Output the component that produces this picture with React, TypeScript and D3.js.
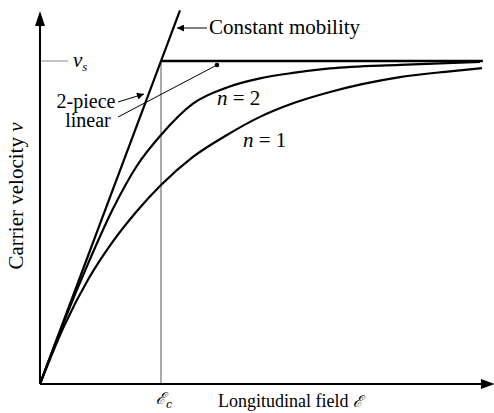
import React from "react";
import * as d3 from "d3";

// Field in units of Ec, velocity in units of vs
const n2Field = [0, 0.2, 0.4, 0.6, 0.8, 1.0, 1.264, 1.545, 1.818, 2.091, 2.397, 2.975, 3.636];
const n2Vel = [0, 0.195, 0.375, 0.54, 0.675, 0.771, 0.868, 0.918, 0.946, 0.963, 0.977, 0.988, 0.997];
const n1Field = [0, 0.2, 0.4, 0.6, 0.8, 1.0, 1.264, 1.545, 1.818, 2.091, 2.397, 2.975, 3.388, 3.653];
const n1Vel = [0, 0.18, 0.325, 0.44, 0.535, 0.616, 0.703, 0.771, 0.827, 0.869, 0.904, 0.95, 0.968, 0.978];
const cmField = [0, 1.157];
const cmVel = [0, 1.157];
const pieceField = [1, 3.66];
const pieceVel = [1, 1];
const fieldMax = 3.76;
const velMax = 1.155;

const W = 494;
const H = 413;

export default function App() {
  const x = d3.scaleLinear().domain([0, 1]).range([40, 161]);
  const y = d3.scaleLinear().domain([0, 1]).range([384, 61]);
  const toPts = (fx: number[], vy: number[]) => fx.map((f, i) => [f, vy[i]] as [number, number]);
  const smooth = d3
    .line<[number, number]>()
    .x((d) => x(d[0]))
    .y((d) => y(d[1]))
    .curve(d3.curveMonotoneX);
  const straight = d3
    .line<[number, number]>()
    .x((d) => x(d[0]))
    .y((d) => y(d[1]));

  const serif = "'Liberation Serif', 'Times New Roman', 'DejaVu Serif', serif";
  const x0 = x(0);
  const y0 = y(0);
  const xEnd = x(fieldMax);
  const yTop = y(velMax);

  return (
    <svg
      width={W}
      height={H}
      viewBox={`0 0 ${W} ${H}`}
      style={{ position: "absolute", left: 0, top: 0, background: "#fff" }}
      fontFamily={serif}
    >
      <defs>
        <marker id="ah" viewBox="0 0 10 10" refX="10" refY="5" markerWidth="9" markerHeight="7" markerUnits="userSpaceOnUse" orient="auto">
          <path d="M0,0 L10,5 L0,10 z" fill="#000" />
        </marker>
      </defs>

      {/* Ec vertical guide */}
      <line x1={x(1)} x2={x(1)} y1={y(1)} y2={y0} stroke="#555" strokeWidth={1} />
      {/* vs tick */}
      <line x1={x0} x2={x0 + 28} y1={y(1)} y2={y(1)} stroke="#888" strokeWidth={1} />

      {/* axes */}
      <line x1={x0} x2={x0} y1={y0} y2={yTop + 14} stroke="#000" strokeWidth={2} />
      <path d={`M${x0},${yTop} L${x0 - 5},${yTop + 15} L${x0 + 5},${yTop + 15} z`} fill="#000" />
      <line x1={x0} x2={xEnd - 13} y1={y0} y2={y0} stroke="#000" strokeWidth={2} />
      <path d={`M${xEnd},${y0} L${xEnd - 14},${y0 - 5} L${xEnd - 14},${y0 + 5} z`} fill="#000" />

      {/* curves */}
      <path d={straight(toPts(cmField, cmVel)) || ""} fill="none" stroke="#000" strokeWidth={2.2} />
      <path d={straight(toPts(pieceField, pieceVel)) || ""} fill="none" stroke="#000" strokeWidth={2.6} />
      <path d={smooth(toPts(n2Field, n2Vel)) || ""} fill="none" stroke="#000" strokeWidth={2.2} />
      <path d={smooth(toPts(n1Field, n1Vel)) || ""} fill="none" stroke="#000" strokeWidth={2.2} />

      {/* annotations */}
      <line x1={207} y1={28} x2={177} y2={28} stroke="#000" strokeWidth={1} markerEnd="url(#ah)" />
      <text x={209} y={34} fontSize={21}>Constant mobility</text>

      <text x={73} y={67} fontSize={21} fontStyle="italic">
        v<tspan fontSize={13} dy={4}>s</tspan>
      </text>

      <text x={86} y={108} fontSize={20} textAnchor="middle">2-piece</text>
      <text x={88} y={127} fontSize={20} textAnchor="middle">linear</text>
      <line x1={118} y1={102} x2={144} y2={94} stroke="#000" strokeWidth={1} markerEnd="url(#ah)" />
      <line x1={118} y1={117} x2={217} y2={65} stroke="#000" strokeWidth={1} />
      <circle cx={217} cy={65} r={2.3} fill="#000" />

      <text x={217} y={105} fontSize={21}>
        <tspan fontStyle="italic">n</tspan> = 2
      </text>
      <text x={243} y={147} fontSize={21}>
        <tspan fontStyle="italic">n</tspan> = 1
      </text>

      <text x={156} y={404} fontSize={16} fontFamily="'DejaVu Serif', serif" fontStyle="italic">
        ℰ<tspan fontSize={11} dy={4}>c</tspan>
      </text>
      <text x={218} y={407} fontSize={18}>
        Longitudinal field <tspan fontFamily="'DejaVu Serif', serif" fontStyle="italic" fontSize={16}>ℰ</tspan>
      </text>

      <text transform="translate(23,196) rotate(-90)" fontSize={21} textAnchor="middle">
        Carrier velocity <tspan fontStyle="italic">v</tspan>
      </text>
    </svg>
  );
}
